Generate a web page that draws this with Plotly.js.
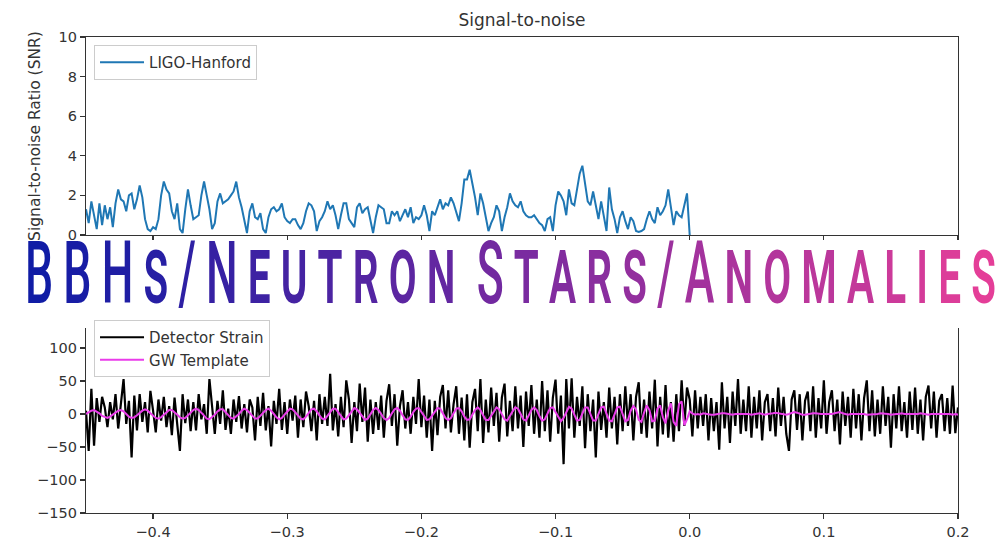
<!DOCTYPE html>
<html><head><meta charset="utf-8">
<script src="https://cdn.plot.ly/plotly-3.0.1.min.js"></script>
<style>html,body{margin:0;padding:0;background:#fff}#chart{width:1000px;height:544px}</style>
</head><body><div id="chart"></div>
<script>
// ---- data (time axis: start -0.45 s, sample step 0.002 s) ----
const tStart = -0.45;
const tStep = 0.002;

const snrHanford = [
  1.3,0.6,1.7,1.0,0.3,1.6,0.5,1.5,0.8,1.4,
  0.4,1.6,2.3,1.8,1.7,1.2,2.0,2.1,1.3,1.8,
  2.5,1.9,0.8,0.3,0.2,0.4,0.3,0.8,2.0,2.7,
  2.3,2.1,1.2,0.8,1.6,0.3,0.1,1.3,2.3,1.5,
  0.8,0.9,1.0,2.0,2.7,2.0,1.3,0.3,0.6,1.7,
  2.1,1.6,1.7,1.8,2.0,2.2,2.7,1.9,1.4,0.7,
  0.1,1.2,1.6,0.9,0.8,1.1,0.3,0.1,0.9,1.3,
  1.4,1.2,1.3,1.6,0.9,0.7,0.6,0.8,0.8,0.5,
  0.3,0.6,1.2,1.6,1.5,1.2,0.2,0.7,0.9,1.2,
  1.7,1.3,1.5,1.0,0.3,1.0,1.6,1.6,0.8,0.6,
  0.4,1.4,1.6,1.1,1.3,1.4,0.8,0.1,0.9,1.5,
  1.4,1.3,0.6,0.6,1.2,
  1.0,1.2,0.7,1.0,1.3,0.9,1.4,0.6,0.9,0.8,
  1.0,1.5,1.0,0.2,1.2,1.0,1.4,1.8,1.3,1.6,
  1.5,1.9,1.6,1.2,0.7,1.6,2.8,2.8,3.3,2.6,
  1.9,1.0,2.1,1.6,0.8,0.2,0.6,0.9,1.5,1.2,
  0.2,0.9,1.4,2.1,1.7,1.5,1.4,1.7,1.2,1.0,
  0.9,0.9,1.0,0.8,0.6,0.5,0.2,0.8,0.9,0.2,
  1.5,2.2,2.0,1.7,1.0,2.3,1.6,1.5,2.4,3.1,
  3.5,2.7,1.7,1.5,2.2,1.5,0.8,1.7,0.9,0.2,
  2.4,1.3,0.8,0.1,0.9,1.2,0.7,0.3,0.9,0.7,
  0.2,0.15,0.2,0.3,0.8,1.2,0.8,0.6,1.4,1.0,
  1.2,1.5,2.3,1.4,0.5,1.2,1.0,0.9,1.5,2.1,
  0.0
];

const detectorStrain = [
  5,-56,38,-48,24,-12,26,10,-20,18,
  -8,30,-22,12,53,-15,20,-66,28,-25,
  30,-12,18,-28,35,5,-28,22,-10,26,
  -20,12,-32,25,-18,-56,30,-14,22,-26,
  18,-25,30,-8,15,-30,53,10,-30,20,
  -15,36,-24,8,-30,22,-12,27,-22,15,
  -28,22,10,-40,26,-18,32,-25,12,-49,
  20,-15,38,-24,18,-30,22,-10,28,-36,
  22,-20,34,12,-26,20,-40,30,-15,26,
  -18,61,-25,15,-34,26,-20,51,22,-44,
  18,-26,46,-12,40,-42,22,-30,18,-24,
  28,-36,20,45,-18,30,-48,12,36,-22,
  18,-30,26,-15,53,-20,28,-36,22,-56,
  20,-32,26,44,-22,36,-28,15,42,-30,
  25,-40,30,-51,18,38,-26,53,-44,22,
  -28,40,-18,32,-42,25,46,-34,20,-26,
  42,-22,28,-50,34,-18,44,-30,22,-36,
  50,-26,36,-42,25,52,-30,28,-76,53,
  -22,54,-36,26,-18,42,-52,30,-26,22,
  -66,34,-24,18,-36,40,-22,26,-46,30,
  -26,42,-18,30,-40,26,48,-30,22,-36,
  34,-22,52,-49,26,-31,44,-36,18,-42,
  30,-26,51,-18,40,22,-34,36,-22,26,
  -18,30,-40,24,-26,18,-54,48,-22,26,
  -44,34,-18,53,-30,22,-26,42,-36,26,
  -22,36,-40,18,30,-26,24,-34,40,-18,
  26,-30,-56,22,36,-24,30,-40,20,34,
  -26,42,-36,24,-22,51,-30,18,36,-26,
  22,-46,34,-18,26,-36,38,-22,30,-40,
  24,51,-26,36,-34,22,-30,42,-18,26,
  -51,30,-22,42,-26,18,-36,34,-24,40,
  -30,22,-40,26,43,-22,34,-36,20,30,
  -26,24,-30,43,-29,10
];

const gwTemplate = [
  0,3,5,6,4,1,-3,-5,-6,
  -4,-1,3,5,6,4,0,-4,-6,
  -5,-2,2,5,7,5,1,-3,-6,
  -7,-5,-1,3,6,6,3,-1,-5,
  -7,-6,-2,2,6,8,6,2,-3,
  -7,-8,-5,-1,4,7,7,3,-2,
  -6,-7,-4,0,5,8,6,2,-3,
  -7,-7,-3,2,6,8,5,0,-5,
  -8,-6,-1,4,8,7,3,-2,
  -7,-8,-4,2,7,8,4,-2,
  -7,-8,-3,3,8,8,2,-4,
  -8,-7,-1,5,9,
  7,1,-5,-9,-7,-1,6,
  9,6,0,-6,-9,-6,1,
  7,9,5,-2,-8,-9,-4,
  3,8,9,3,-4,-9,-8,
  -2,5,9,8,1,-6,-9,
  -6,1,8,9,4,-4,-9,
  -8,-1,6,10,6,-2,-9,-9,
  -3,5,10,7,-1,-8,
  -10,-4,4,10,8,0,
  -8,-10,-3,6,10,6,
  -3,-10,-8,1,9,10,3,
  -6,-11,-6,4,11,
  8,-2,-10,-9,1,
  10,10,0,-10,-10,
  0,10,11,1,-10,
  -11,-1,10,11,0,
  -11,-9,5,12,
  7,-9,-12,2,
  13,6,-11,-10,
  8,13,-5,
  -14,6,16,-12,-18,15,19,-17,-8,4,
  1,-1,0,-1,1,0,0,-1,-1,0,
  0,1,1,0,-1,-1,0,0,1,1,
  0,0,-1,0,0,1,0,-1,0,0,
  1,2,1,0,-1,-1,0,1,3,2,
  0,-1,-1,0,0,1,1,0,0,0,
  0,-1,0,1,2,3,1,0,-1,0,
  0,0,1,1,0,-1,-1,0,0,0,
  1,1,0,0,-1,0,0,0,1,0,
  0,-1,0,0,0,1,0,0,-1,0,
  0,0,0,1,0,0,0,-1,0,-1
];

const xTickValues = [-0.4,-0.3,-0.2,-0.1,0.0,0.1,0.2];
const strainTickValues = [-150,-100,-50,0,50,100];
const snrTickValues = [0,2,4,6,8,10];
const traceNames = ['LIGO-Hanford','Detector Strain','GW Template'];
const chartTitle = 'Signal-to-noise';
const snrAxisTitle = 'Signal-to-noise Ratio (SNR)';
const bannerText = 'BBHs/Neutron Stars/Anomalies';

// ---- build ----
const timeOf = arr => arr.map((_, i) => +(tStart + i * tStep).toFixed(4));

const FONT = 'DejaVu Sans, Liberation Sans, sans-serif';
const TXT = '#333333';

function bannerColor(f) {
  const stops = [[0,[16,28,165]],[0.5,[118,42,160]],[1,[228,62,152]]];
  let a = stops[0], b = stops[1];
  if (f > 0.5) { a = stops[1]; b = stops[2]; }
  const u = (f - a[0]) / (b[0] - a[0]);
  const c = a[1].map((v, k) => Math.round(v + (b[1][k] - v) * u));
  return 'rgb(' + c.join(',') + ')';
}
const chars = bannerText.split('');
const bannerHtml = chars.map((ch, i) => {
  if (ch === ' ') return ' ';
  const small = ch !== ch.toUpperCase();
  const last = i === chars.length - 1;
  return '<span style="color:' + bannerColor(i / (chars.length - 1)) +
    (last ? '' : ';letter-spacing:20px') +
    (small ? ';font-size:93px' : '') + '">' + ch + '</span>';
}).join('');

const data = [
  {x: timeOf(snrHanford), y: snrHanford, type:'scatter', mode:'lines', name: traceNames[0],
   line:{color:'#1f77b4', width:2}, xaxis:'x', yaxis:'y', legend:'legend'},
  {x: timeOf(detectorStrain), y: detectorStrain, type:'scatter', mode:'lines', name: traceNames[1],
   line:{color:'#000000', width:2.2}, xaxis:'x2', yaxis:'y2', legend:'legend2'},
  {x: timeOf(gwTemplate), y: gwTemplate, type:'scatter', mode:'lines', name: traceNames[2],
   line:{color:'#ea3cea', width:2}, xaxis:'x2', yaxis:'y2', legend:'legend2'}
];

const axisBase = {
  showline:true, linecolor:'#333', linewidth:1.2, mirror:true,
  ticks:'outside', ticklen:5, tickwidth:1.2, tickcolor:'#333',
  showgrid:false, zeroline:false,
  tickfont:{family:FONT, size:14.5, color:TXT}
};

const layout = {
  width:1000, height:544,
  margin:{l:86, r:42, t:37, b:31},
  paper_bgcolor:'#ffffff', plot_bgcolor:'#ffffff',
  showlegend:true,
  title:{text:chartTitle, x:0.522, xanchor:'center', y:0.963, yanchor:'middle',
         font:{family:FONT, size:17, color:TXT}},
  xaxis:Object.assign({}, axisBase, {anchor:'y', range:[-0.45,0.2], tickvals:xTickValues, tickformat:'.1f', showticklabels:false}),
  yaxis:Object.assign({}, axisBase, {anchor:'x', domain:[0.584,1], range:[0,10], tickvals:snrTickValues,
         title:{text:snrAxisTitle, standoff:14, font:{family:FONT, size:15.5, color:TXT}}}),
  xaxis2:Object.assign({}, axisBase, {anchor:'y2', range:[-0.45,0.2], tickvals:xTickValues, tickformat:'.1f'}),
  yaxis2:Object.assign({}, axisBase, {anchor:'x2', domain:[0,0.416], range:[-150,150], tickvals:strainTickValues}),
  legend:{x:0.0092, y:0.983, xanchor:'left', yanchor:'top', bgcolor:'rgba(255,255,255,0.9)', itemwidth:44,
          bordercolor:'#cccccc', borderwidth:1, font:{family:FONT, size:15, color:TXT}},
  legend2:{x:0.0092, y:0.2857, xanchor:'left', yanchor:'bottom', bgcolor:'rgba(255,255,255,0.9)', itemwidth:44,
          bordercolor:'#cccccc', borderwidth:1, font:{family:FONT, size:15, color:TXT}},
  shapes:[{type:'rect', xref:'paper', yref:'paper', x0:-0.0745, x1:1.05, y0:0.3887, y1:0.5735,
           fillcolor:'#ffffff', line:{width:0}, layer:'above'}],
  annotations:[{xref:'paper', yref:'paper', x:-0.07, y:0.48, xanchor:'left', yanchor:'middle',
                showarrow:false, text:bannerHtml,
                font:{family:'Roboto, Liberation Sans, sans-serif', size:88, weight:500, variant:'small-caps', color:'#3a2aa0'}}]
};

Plotly.newPlot('chart', data, layout, {staticPlot:true, responsive:false}).then(function(gd){
  const txt = gd.querySelector('.annotation-text');
  if (!txt) return;
  const bb = txt.getBBox();
  const r = txt.getBoundingClientRect();
  const ox = r.left - bb.x, oy = r.top - bb.y;
  const s = (996 - 25) / bb.width;
  const a = 25 - ox - s * bb.x;
  let base = parseFloat(txt.getAttribute('y'));
  if (isNaN(base)) base = bb.y + 0.928 * 88;
  const dy = 303 - (oy + base);
  txt.setAttribute('transform', 'matrix(' + s + ',0,0,1,' + a + ',' + dy + ')');
});
</script>
</body></html>
